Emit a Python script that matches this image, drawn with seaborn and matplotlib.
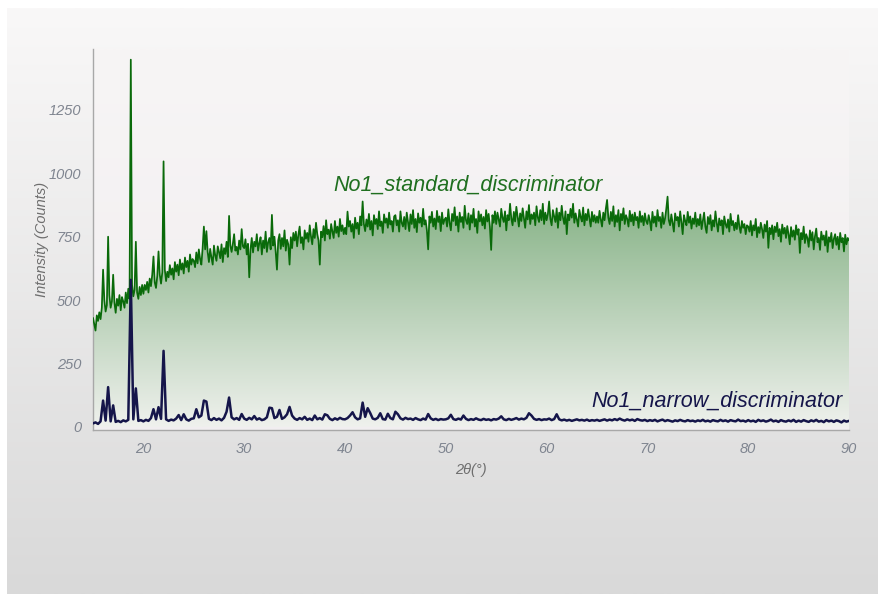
import numpy as np
import pandas as pd
import seaborn as sns
import matplotlib.pyplot as plt
from matplotlib.colors import to_rgb
from matplotlib.patches import PathPatch

# scan grids: standard at 0.125 deg, narrow at 0.25 deg
standard_theta = np.round(np.arange(15.0, 90.0 + 0.0625, 0.125), 3)
narrow_theta = np.round(np.arange(15.0, 90.0 + 0.125, 0.25), 2)

standard_counts = [
    # 15.0 - 19.875
    430, 405, 380, 440, 418, 452, 425, 470, 620, 500, 455, 480, 750, 520, 470, 495, 600, 490, 450, 505,
    478, 520, 460, 512, 495, 470, 530, 488, 545, 505, 1448, 560, 515, 540, 730, 530, 505, 552, 520, 560,
    # 20.0 - 24.875
    525, 560, 540, 572, 530, 585, 555, 600, 672, 570, 548, 595, 692, 600, 565, 610, 1047, 620, 575, 612,
    590, 638, 600, 625, 582, 650, 612, 640, 598, 660, 620, 645, 605, 668, 630, 655, 612, 680, 640, 662,
    # 25.0 - 29.875
    655, 630, 688, 645, 700, 662, 640, 705, 790, 700, 772, 690, 650, 702, 668, 640, 715, 676, 655, 712,
    690, 665, 720, 650, 705, 682, 730, 670, 832, 715, 690, 722, 760, 695, 710, 680, 735, 700, 780, 712,
    # 30.0 - 34.875
    705, 740, 680, 722, 590, 700, 745, 688, 730, 712, 760, 695, 725, 748, 680, 735, 705, 770, 690, 728,
    745, 700, 836, 715, 750, 690, 620, 735, 760, 702, 745, 712, 775, 695, 738, 720, 640, 748, 705, 765,
    # 35.0 - 39.875
    735, 770, 712, 758, 790, 725, 748, 700, 775, 742, 765, 730, 795, 752, 720, 780, 745, 805, 760, 735,
    640, 770, 748, 792, 735, 815, 760, 778, 742, 800, 770, 745, 812, 765, 790, 750, 820, 772, 795, 760,
    # 40.0 - 44.875
    785, 760, 849, 790, 812, 770, 800, 745, 825, 782, 805, 760, 830, 795, 889, 800, 772, 818, 790, 840,
    778, 812, 755, 835, 800, 820, 780, 850, 792, 810, 765, 838, 805, 822, 785, 845, 798, 812, 770, 830,
    # 45.0 - 49.875
    835, 795, 815, 770, 850, 805, 790, 828, 780, 845, 810, 772, 838, 800, 855, 785, 820, 768, 842, 805,
    825, 790, 860, 798, 815, 775, 700, 830, 805, 848, 790, 822, 780, 852, 808, 830, 772, 845, 800, 818,
    # 50.0 - 54.875
    825, 790, 858, 805, 775, 840, 812, 866, 795, 830, 770, 845, 808, 828, 785, 872, 815, 800, 842, 778,
    835, 805, 860, 790, 820, 765, 850, 810, 838, 795, 828, 782, 855, 810, 840, 790, 698, 835, 805, 850,
    # 55.0 - 59.875
    800, 845, 818, 790, 860, 825, 808, 850, 775, 835, 815, 880, 822, 795, 848, 810, 868, 830, 790, 842,
    812, 862, 825, 785, 850, 818, 875, 800, 838, 820, 845, 795, 870, 826, 808, 855, 815, 880, 800, 845,
    # 60.0 - 64.875
    815, 840, 889, 820, 795, 855, 830, 808, 862, 785, 845, 815, 872, 825, 800, 850, 760, 838, 815, 860,
    825, 880, 805, 842, 818, 790, 856, 828, 810, 865, 795, 840, 815, 858, 822, 790, 848, 810, 835, 805,
    # 65.0 - 69.875
    830, 805, 852, 818, 790, 845, 815, 860, 895, 825, 800, 848, 812, 870, 790, 835, 808, 855, 775, 840,
    815, 862, 800, 835, 820, 790, 852, 810, 838, 795, 845, 815, 828, 785, 850, 808, 832, 795, 842, 812,
    # 70.0 - 74.875
    800, 835, 812, 775, 848, 805, 830, 790, 855, 812, 828, 785, 845, 800, 822, 860, 908, 815, 795, 838,
    805, 770, 842, 815, 828, 790, 850, 808, 760, 835, 812, 795, 848, 805, 830, 782, 822, 800, 845, 790,
    # 75.0 - 79.875
    820, 795, 838, 780, 812, 845, 790, 765, 828, 800, 835, 775, 815, 790, 850, 805, 770, 822, 795, 815,
    760, 830, 800, 785, 818, 770, 840, 795, 812, 775, 805, 780, 835, 790, 765, 812, 785, 800, 760, 795,
    # 80.0 - 84.875
    790, 770, 812, 755, 795, 775, 820, 748, 788, 765, 805, 780, 745, 798, 770, 812, 706, 785, 760, 795,
    740, 790, 768, 805, 752, 780, 730, 798, 762, 785, 745, 792, 760, 720, 788, 750, 775, 738, 795, 758,
    # 85.0 - 89.875
    780, 686, 765, 740, 790, 725, 760, 745, 710, 775, 735, 768, 700, 752, 782, 728, 745, 698, 770, 738,
    755, 715, 772, 690, 748, 730, 765, 705, 742, 760, 718, 750, 700, 765, 728, 745, 692, 758, 720, 745,
    # 90.0
    735,
]

narrow_counts = [
    14, 18, 12, 22, 104, 25, 157, 22, 85, 20, 24, 19, 26, 22, 28, 580, 30, 152, 24, 27,
    22, 28, 24, 35, 70, 30, 78, 32, 300, 30, 24, 29, 26, 33, 47, 27, 50, 30, 25, 32,
    34, 70, 38, 45, 104, 100, 32, 27, 35, 28, 33, 26, 36, 60, 116, 38, 30, 35, 28, 51,
    33, 28, 36, 30, 43, 29, 34, 27, 30, 38, 76, 74, 35, 40, 67, 32, 38, 50, 79, 45,
    33, 28, 35, 30, 40, 28, 33, 27, 45, 30, 35, 29, 50, 46, 32, 27, 34, 29, 36, 31,
    30, 35, 45, 58, 38, 30, 34, 96, 40, 74, 55, 33, 30, 36, 54, 31, 29, 52, 35, 30,
    60, 50, 34, 29, 36, 31, 33, 28, 35, 30, 27, 33, 29, 51, 34, 28, 32, 27, 31, 29,
    30, 34, 48, 31, 28, 33, 29, 45, 32, 27, 31, 28, 34, 29, 27, 32, 28, 30, 26, 31,
    29, 33, 42, 30, 27, 32, 28, 31, 35, 29, 33, 30, 36, 54, 45, 32, 28, 31, 27, 30,
    29, 33, 27, 31, 50, 30, 26, 29, 25, 28, 24, 27, 30, 26, 28, 25, 29, 24, 27, 25,
    28, 24, 27, 30, 25, 29, 26, 31, 27, 33, 28, 25, 30, 26, 29, 24, 31, 27, 25, 28,
    23, 27, 24, 28, 22, 26, 29, 23, 27, 24, 21, 26, 23, 28, 24, 22, 27, 23, 25, 21,
    26, 23, 28, 22, 25, 21, 27, 24, 22, 28, 23, 26, 21, 27, 24, 22, 29, 23, 25, 21,
    27, 22, 25, 20, 28, 23, 26, 21, 24, 29, 22, 25, 20, 27, 23, 21, 26, 22, 28, 20,
    25, 21, 27, 23, 20, 26, 22, 28, 21, 24, 19, 27, 22, 25, 20, 26, 23, 18, 25, 21,
    24,
]

series_names = ["No1_standard_discriminator", "No1_narrow_discriminator"]
y_ticks = [0, 250, 500, 750, 1000, 1250]
x_major = [20, 30, 40, 50, 60, 70, 80, 90]

assert len(standard_counts) == len(standard_theta)
assert len(narrow_counts) == len(narrow_theta)

sns.set_style("white")
plt.rcParams["font.family"] = ["Liberation Sans", "DejaVu Sans"]

GREEN = "#0a6a0a"
NAVY = "#15154a"
GREY = "#7f8590"

std_df = pd.DataFrame({"two_theta": standard_theta, "counts": standard_counts})
nar_df = pd.DataFrame({"two_theta": narrow_theta, "counts": narrow_counts})

fig = plt.figure(figsize=(8.79, 5.94), dpi=100, facecolor="white")

# panel background gradient (light top -> grey bottom)
bg = fig.add_axes([7 / 879, 0, 1 - 7 / 879, 1 - 8 / 594], zorder=-10)
top_c, bot_c = np.array(to_rgb("#f9f8f8")), np.array(to_rgb("#d9d9d9"))
t = np.linspace(0, 1, 256)[:, None, None]
bg.imshow(top_c * (1 - t) + bot_c * t, aspect="auto", extent=[0, 1, 0, 1])
bg.set_axis_off()

ax = fig.add_axes([93 / 879, 1 - 430 / 594, (849 - 93) / 879, (430 - 49) / 594])
ax.set_xlim(15, 90)
ax.set_ylim(-12, 1490)

# plot area background
pa_top, pa_bot = np.array(to_rgb("#f7f5f5")), np.array(to_rgb("#f1eef0"))
ax.imshow(pa_top * (1 - t) + pa_bot * t, aspect="auto",
          extent=[15, 90, -12, 1490], zorder=0)

# gradient fill under the standard curve
levels = np.linspace(1500, 0, 300)
frac = np.clip(levels / 850, 0, 1)[:, None, None]
fill_top, fill_bot = np.array(to_rgb("#8cb68c")), np.array(to_rgb("#eff1ed"))
grad = fill_bot * (1 - frac) + fill_top * frac
poly = ax.fill_between(std_df["two_theta"], std_df["counts"], 0, color="none")
clip = PathPatch(poly.get_paths()[0], transform=ax.transData,
                 facecolor="none", edgecolor="none")
ax.add_patch(clip)
img = ax.imshow(grad, aspect="auto", extent=[15, 90, 0, 1500], zorder=1)
img.set_clip_path(clip)

sns.lineplot(data=std_df, x="two_theta", y="counts", color=GREEN,
             linewidth=1.25, ax=ax, zorder=3)
sns.lineplot(data=nar_df, x="two_theta", y="counts", color=NAVY,
             linewidth=1.8, ax=ax, zorder=4)

ax.set_xlim(15, 90)
ax.set_ylim(-12, 1490)

ax.text(52.2, 955, series_names[0], color="#1f6f1f", fontsize=15.5,
        style="italic", ha="center", va="center", zorder=5)
ax.text(89.4, 100, series_names[1], color=NAVY, fontsize=15.5,
        style="italic", ha="right", va="center", zorder=5)

# axes styling
for side in ["top", "right"]:
    ax.spines[side].set_visible(False)
for side in ["left", "bottom"]:
    ax.spines[side].set_color("#a8a8a8")
    ax.spines[side].set_linewidth(1.0)

ax.set_yticks(y_ticks + [1490])
ax.set_yticklabels([str(v) for v in y_ticks] + [""])
ax.set_xticks(x_major)
ax.set_xticks(np.arange(16, 90, 2), minor=True)
ax.tick_params(axis="both", which="both", direction="out", color="#a8a8a8",
               labelcolor=GREY, labelsize=10.5, length=5, width=1)
ax.tick_params(axis="x", which="minor", length=4)
for lab in ax.get_xticklabels() + ax.get_yticklabels():
    lab.set_style("italic")

ax.set_xlabel("2θ(°)", color="#6e6e6e", fontsize=10.5, style="italic", labelpad=5)
ax.set_ylabel("Intensity (Counts)", color="#6e6e6e", fontsize=10.5,
              style="italic", labelpad=0)
ax.grid(False)

fig.savefig("out.png", dpi=100)
